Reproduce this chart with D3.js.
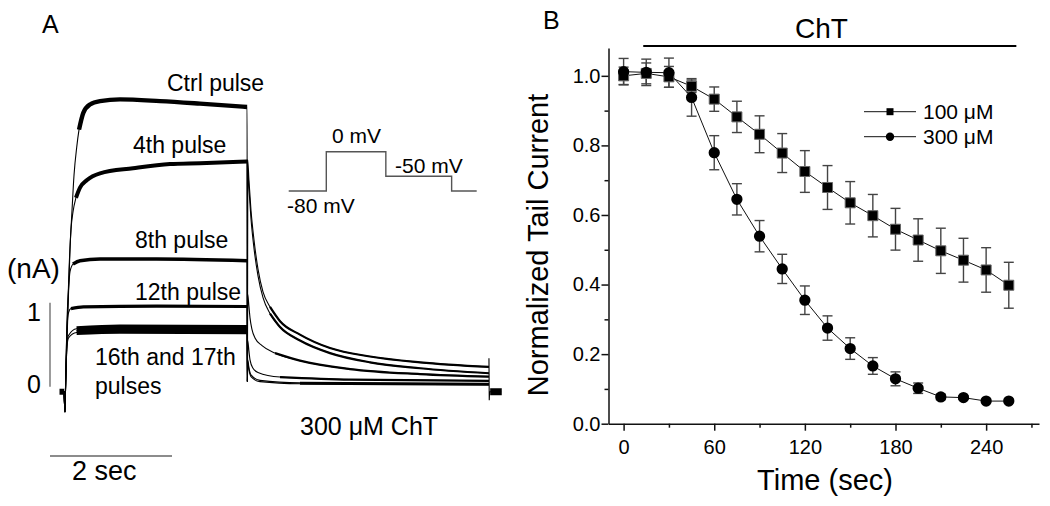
<!DOCTYPE html>
<html><head><meta charset="utf-8">
<script src="https://cdn.jsdelivr.net/npm/d3@7"></script>
<style>
body{margin:0;background:#fff}
svg{display:block}
text{font-family:"Liberation Sans",Arial,Helvetica,sans-serif;fill:#000}
</style>
</head><body>
<svg id="c" width="1050" height="506"></svg>
<script>
// ---------------- Panel B data ----------------
const timesB = [0,15,30,45,60,75,90,105,120,135,150,165,180,195,210,225,240,255];
const mean100 = [1.000,1.007,0.997,0.970,0.933,0.882,0.832,0.778,0.725,0.679,0.635,0.598,0.559,0.528,0.497,0.470,0.442,0.398];
const err100  = [0.025,0.030,0.030,0.018,0.035,0.045,0.053,0.056,0.060,0.063,0.061,0.061,0.060,0.061,0.065,0.063,0.064,0.066];
const mean300 = [1.012,1.010,1.009,0.938,0.779,0.645,0.539,0.445,0.355,0.275,0.216,0.166,0.129,0.102,0.077,0.075,0.065,0.065];
const err300  = [0.038,0.038,0.042,0.054,0.049,0.045,0.045,0.042,0.041,0.035,0.031,0.024,0.020,0.015,0.008,0.005,0.004,0.004];
const seriesNames = ["100 \u03BCM","300 \u03BCM"];
const xTicksMajor = [0,60,120,180,240];
const xTicksMinor = [30,90,150,210,270];
const yTicksMajor = [0,0.2,0.4,0.6,0.8,1.0];
const yTicksMinor = [0.1,0.3,0.5,0.7,0.9];
const chtBar = [13,260];

// ---------------- Panel A data (time s, current nA) ----------------
const traceCtrl = [[-0.016,-0.05],[0,-0.30],[0.008,-0.04],[0.033,0.56],[0.054,1.03],[0.082,1.63],[0.115,2.10],[0.148,2.52],[0.192,2.85],[0.230,3.06],[0.300,3.26],[0.410,3.36],[0.574,3.40],[0.902,3.42],[1.557,3.40],[2.213,3.37],[2.985,3.33],[2.99,0.06],[2.995,2.70],[3.016,2.45],[3.049,2.10],[3.098,1.75],[3.164,1.40],[3.246,1.13],[3.361,0.95],[3.525,0.78],[3.852,0.62],[4.344,0.46],[5.0,0.36],[5.82,0.29],[6.95,0.235]];
const trace4 = [[-0.016,-0.05],[0,-0.30],[0.008,-0.04],[0.033,0.67],[0.066,1.39],[0.098,1.87],[0.131,2.08],[0.180,2.25],[0.246,2.37],[0.361,2.46],[0.574,2.54],[1.115,2.60],[1.721,2.65],[2.213,2.66],[2.985,2.68],[2.99,0.06],[2.995,2.60],[3.016,2.35],[3.049,2.00],[3.098,1.65],[3.164,1.32],[3.246,1.06],[3.361,0.87],[3.525,0.71],[3.852,0.55],[4.344,0.40],[5.0,0.29],[5.82,0.22],[6.95,0.16]];
const trace8 = [[-0.016,-0.05],[0,-0.30],[0.008,-0.04],[0.033,0.79],[0.057,1.15],[0.082,1.37],[0.131,1.46],[0.246,1.50],[0.574,1.52],[1.5,1.52],[2.985,1.50],[2.99,0.06],[2.995,1.10],[3.016,0.95],[3.033,0.82],[3.066,0.68],[3.115,0.58],[3.23,0.49],[3.443,0.40],[3.852,0.31],[4.672,0.21],[5.82,0.15],[6.95,0.12]];
const trace12 = [[-0.016,-0.05],[0,-0.30],[0.008,-0.04],[0.033,0.70],[0.057,0.88],[0.098,0.93],[0.3,0.95],[1.5,0.96],[2.985,0.955],[2.99,0.06],[2.995,0.55],[3.016,0.42],[3.033,0.32],[3.082,0.22],[3.164,0.17],[3.525,0.115],[4.672,0.085],[6.95,0.07]];
const trace16 = [[-0.016,-0.05],[0,-0.30],[0.008,-0.04],[0.033,0.51],[0.057,0.61],[0.19,0.69],[0.9,0.71],[2.985,0.705],[2.99,0.06],[2.995,0.32],[3.016,0.22],[3.049,0.14],[3.197,0.075],[3.852,0.045],[6.95,0.035]];
const trace17 = [[-0.016,-0.05],[0,-0.30],[0.008,-0.04],[0.033,0.48],[0.057,0.58],[0.19,0.645],[0.9,0.66],[2.985,0.655],[2.99,0.06],[2.995,0.30],[3.016,0.20],[3.049,0.12],[3.197,0.06],[3.852,0.035],[6.95,0.025]];
const endArtifact = [[6.95,0.34],[6.955,-0.16],[6.96,-0.06],[7.15,-0.06]];
const preBaseline = [[-0.09,-0.06],[-0.016,-0.06]];
const postBaseline = [[6.97,-0.06],[7.16,-0.06]];
const currentBar = [0,1];   // nA
const timeBarSec = 2;       // s
// voltage protocol (arbitrary time units, mV)
const protoT = [0,0.6,1.55,2.6,3.0];
const protoV = [-80,0,-50,-80,-80];

const svg = d3.select("#c");
const FONT = '"Liberation Sans",Arial,sans-serif';

// ================= Panel A =================
const xA = d3.scaleLinear().domain([0,1]).range([65,126]);
const yA = d3.scaleLinear().domain([0,1]).range([386.7,302.7]);
const lineA = d3.line().x(d=>xA(d[0])).y(d=>yA(d[1])).curve(d3.curveMonotoneX);
const gA = svg.append("g");

const traces = [traceCtrl,trace4,trace8,trace12,trace16,trace17];
const noiseW = [4.4,4,3.4,3.2,5,5];
const noiseStart = [0.22,0.16,0.09,0.07,0.06,0.06];
traces.forEach((tr,i)=>{
  gA.append("path").attr("d",lineA(tr)).attr("fill","none").attr("stroke","#000").attr("stroke-width",1.1);
  const plat = tr.filter(d=>d[0]>=noiseStart[i] && d[0]<=2.985);
  gA.append("path").attr("d",lineA(plat)).attr("fill","none").attr("stroke","#000").attr("stroke-width",noiseW[i]);
  const tail = tr.filter(d=>d[0]>=3.25);
  gA.append("path").attr("d",lineA(tail)).attr("fill","none").attr("stroke","#000").attr("stroke-width",2.2);
});
gA.append("path").attr("d",d3.line().x(d=>xA(d[0])).y(d=>yA(d[1]))(endArtifact)).attr("fill","none").attr("stroke","#000").attr("stroke-width",1.1);
gA.append("path").attr("d",d3.line().x(d=>xA(d[0])).y(d=>yA(d[1]))(preBaseline)).attr("fill","none").attr("stroke","#000").attr("stroke-width",6);
gA.append("path").attr("d",d3.line().x(d=>xA(d[0])).y(d=>yA(d[1]))(postBaseline)).attr("fill","none").attr("stroke","#000").attr("stroke-width",7);

// scale bars
gA.append("line").attr("x1",50).attr("x2",50).attr("y1",yA(currentBar[0])).attr("y2",yA(currentBar[1])).attr("stroke","#666").attr("stroke-width",1.3);
gA.append("line").attr("x1",50).attr("x2",50+xA(timeBarSec)-xA(0)).attr("y1",456).attr("y2",456).attr("stroke","#666").attr("stroke-width",1.3);

// voltage protocol
const xP = d3.scaleLinear().domain([0,3.0]).range([288.7,476.7]);
const yP = d3.scaleLinear().domain([-80,0]).range([191,151.7]);
gA.append("path").attr("d",d3.line().x((d,i)=>xP(protoT[i])).y((d,i)=>yP(protoV[i])).curve(d3.curveStepAfter)(protoT))
  .attr("fill","none").attr("stroke","#555").attr("stroke-width",1.4);

function txt(g,x,y,s,size,anchor){
  return g.append("text").attr("x",x).attr("y",y).attr("font-size",size).attr("text-anchor",anchor||"start").text(s);
}
txt(gA,42,33,"A",25);
txt(gA,167,90.7,"Ctrl pulse",23);
txt(gA,133,153,"4th pulse",23);
txt(gA,135,248,"8th pulse",23);
txt(gA,135,300,"12th pulse",23);
txt(gA,95,365,"16th and 17th",23);
txt(gA,95,394,"pulses",23);
txt(gA,7,278,"(nA)",28);
txt(gA,34,321,"1",25,"middle");
txt(gA,34,393,"0",25,"middle");
txt(gA,72,480,"2 sec",27);
txt(gA,300,435,"300 \u03BCM ChT",25);
txt(gA,332,142.7,"0 mV",21);
txt(gA,395,172.7,"-50 mV",21);
txt(gA,287,213,"-80 mV",21);

// ================= Panel B =================
const xB = d3.scaleLinear().domain([-10,275]).range([608.5,1039]);
const yB = d3.scaleLinear().domain([0,1.08]).range([423.7,48]);
const gB = svg.append("g");

gB.append("g").attr("transform","translate(0,423.7)")
  .call(d3.axisBottom(xB).tickValues(xTicksMajor).tickSize(7).tickPadding(9).tickSizeOuter(0));
gB.append("g").attr("transform","translate(0,423.7)")
  .call(d3.axisBottom(xB).tickValues(xTicksMinor).tickSize(4).tickFormat("").tickSizeOuter(0))
  .select(".domain").remove();
gB.append("g").attr("transform","translate(608.5,0)")
  .call(d3.axisLeft(yB).tickValues(yTicksMajor).tickSize(7).tickPadding(1).tickSizeOuter(0).tickFormat(d3.format(".1f")));
gB.append("g").attr("transform","translate(608.5,0)")
  .call(d3.axisLeft(yB).tickValues(yTicksMinor).tickSize(4).tickFormat("").tickSizeOuter(0))
  .select(".domain").remove();
gB.selectAll(".domain,.tick line").attr("stroke","#111").attr("stroke-width",1.5);
gB.selectAll(".tick text").attr("font-size",20).attr("font-family",FONT).attr("fill","#000");

// axis titles
txt(gB,825,490,"Time (sec)",29,"middle");
gB.append("text").attr("transform","translate(548,245) rotate(-90)").attr("text-anchor","middle").attr("font-size",29).text("Normalized Tail Current");
txt(gB,543,29,"B",25);

// ChT bar
gB.append("line").attr("x1",xB(chtBar[0])).attr("x2",xB(chtBar[1])).attr("y1",46).attr("y2",46).attr("stroke","#000").attr("stroke-width",2);
txt(gB,821.5,38,"ChT",28,"middle");

// error bars
function errBars(means,errs){
  timesB.forEach((t,i)=>{
    const x=xB(t), y1=yB(means[i]-errs[i]), y2=yB(means[i]+errs[i]);
    gB.append("line").attr("x1",x).attr("x2",x).attr("y1",y1).attr("y2",y2).attr("stroke","#444").attr("stroke-width",1.4);
    gB.append("line").attr("x1",x-5).attr("x2",x+5).attr("y1",y1).attr("y2",y1).attr("stroke","#444").attr("stroke-width",1.4);
    gB.append("line").attr("x1",x-5).attr("x2",x+5).attr("y1",y2).attr("y2",y2).attr("stroke","#444").attr("stroke-width",1.4);
  });
}
errBars(mean300,err300);
errBars(mean100,err100);

const lineB = d3.line().x((d,i)=>xB(timesB[i])).y(d=>yB(d));
gB.append("path").attr("d",lineB(mean100)).attr("fill","none").attr("stroke","#111").attr("stroke-width",1);
gB.append("path").attr("d",lineB(mean300)).attr("fill","none").attr("stroke","#111").attr("stroke-width",1);

const sq = d3.symbol(d3.symbolSquare,100);
const ci = d3.symbol(d3.symbolCircle,100);
gB.selectAll("path.sq").data(mean100).join("path").attr("class","sq")
  .attr("transform",(d,i)=>`translate(${xB(timesB[i])},${yB(d)})`).attr("d",sq()).attr("fill","#000").attr("stroke","#666").attr("stroke-width",1);
gB.selectAll("path.ci").data(mean300).join("path").attr("class","ci")
  .attr("transform",(d,i)=>`translate(${xB(timesB[i])},${yB(d)})`).attr("d",ci()).attr("fill","#000");

// legend
const legY = [111.7,136.7];
const legSym = [d3.symbol(d3.symbolSquare,49),d3.symbol(d3.symbolCircle,55)];
seriesNames.forEach((n,i)=>{
  gB.append("line").attr("x1",864).attr("x2",916).attr("y1",legY[i]).attr("y2",legY[i]).attr("stroke","#111").attr("stroke-width",1);
  gB.append("path").attr("transform",`translate(890,${legY[i]})`).attr("d",legSym[i]()).attr("fill","#000");
  txt(gB,923,legY[i]+7.5,n,21);
});
</script>
</body></html>
